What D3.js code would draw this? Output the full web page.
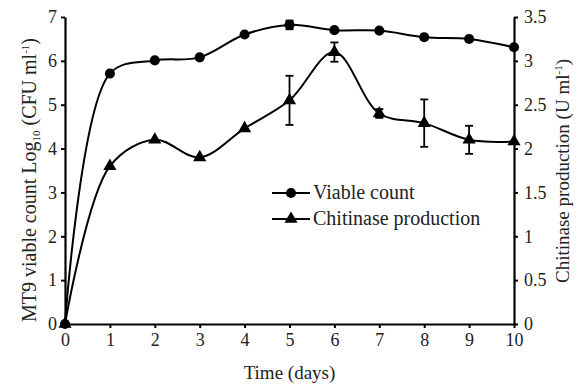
<!DOCTYPE html>
<html>
<head>
<meta charset="utf-8">
<script src="https://cdn.jsdelivr.net/npm/d3@7"></script>
<style>
  body { margin: 0; background: #fff; }
</style>
</head>
<body>
<div id="chart"></div>
<script>
// data
const days = [0, 1, 2, 3, 4, 5, 6, 7, 8, 9, 10];
const viableCount = [0, 5.71, 6.01, 6.08, 6.6, 6.82, 6.7, 6.69, 6.54, 6.5, 6.31];
const viableErr = [0, 0, 0, 0, 0, 0.1, 0, 0, 0, 0, 0];
const chitinase = [0, 1.8, 2.1, 1.9, 2.23, 2.55, 3.1, 2.4, 2.29, 2.1, 2.08];
const chitinaseErr = [0, 0, 0, 0, 0, 0.28, 0.11, 0.05, 0.27, 0.16, 0];
const leftTicks = [0, 1, 2, 3, 4, 5, 6, 7];
const rightTicks = [0, 0.5, 1, 1.5, 2, 2.5, 3, 3.5];

const width = 577, height = 385;
const margin = { top: 17, right: 63, bottom: 61, left: 65 };
const serif = '"Liberation Serif", "Times New Roman", serif';
const ink = "#222";

const svg = d3.select("#chart").append("svg")
  .attr("width", width)
  .attr("height", height)
  .style("font-family", serif);

const x = d3.scaleLinear().domain([0, 10]).range([margin.left, width - margin.right]);
const yL = d3.scaleLinear().domain([0, 7]).range([height - margin.bottom, margin.top]);
const yR = d3.scaleLinear().domain([0, 3.5]).range([height - margin.bottom, margin.top]);

// axes
const xAxis = svg.append("g")
  .attr("transform", `translate(0,${height - margin.bottom})`)
  .call(d3.axisBottom(x).tickValues(days).tickFormat(d3.format("")).tickSize(4).tickPadding(5).tickSizeOuter(0));
const leftAxis = svg.append("g")
  .attr("transform", `translate(${margin.left},0)`)
  .call(d3.axisLeft(yL).tickValues(leftTicks).tickFormat(d3.format("")).tickSize(4).tickPadding(4).tickSizeOuter(0));
const rightAxis = svg.append("g")
  .attr("transform", `translate(${width - margin.right},0)`)
  .call(d3.axisRight(yR).tickValues(rightTicks).tickFormat(d3.format("")).tickSize(4).tickPadding(6).tickSizeOuter(0));

[xAxis, leftAxis, rightAxis].forEach(a => {
  a.attr("font-family", serif).attr("font-size", 18);
  a.select(".domain").attr("stroke", "#000").attr("stroke-width", 2.2);
  a.selectAll(".tick line").attr("stroke", "#000").attr("stroke-width", 2);
  a.selectAll(".tick text").attr("fill", ink).style("font-family", serif).style("font-size", "18px");
});

// axis titles
svg.append("text")
  .attr("x", (margin.left + width - margin.right) / 2)
  .attr("y", 379)
  .attr("text-anchor", "middle")
  .attr("fill", ink)
  .style("font-size", "19px")
  .text("Time (days)");

const leftTitle = svg.append("text")
  .attr("transform", `translate(36,180) rotate(-90)`)
  .attr("text-anchor", "middle")
  .attr("fill", ink)
  .style("font-size", "20px");
leftTitle.append("tspan").text("MT9 viable count Log");
leftTitle.append("tspan").attr("dy", 4).style("font-size", "11px").text("10");
leftTitle.append("tspan").attr("dy", -4).text(" (CFU ml");
leftTitle.append("tspan").attr("dy", -7).style("font-size", "11px").text("-1");
leftTitle.append("tspan").attr("dy", 7).text(")");

const rightTitle = svg.append("text")
  .attr("transform", `translate(569,171) rotate(-90)`)
  .attr("text-anchor", "middle")
  .attr("fill", ink)
  .style("font-size", "19px");
rightTitle.append("tspan").text("Chitinase production (U ml");
rightTitle.append("tspan").attr("dy", -7).style("font-size", "11px").text("-1");
rightTitle.append("tspan").attr("dy", 7).text(")");

// series
const line = d3.line().curve(d3.curveCatmullRom.alpha(0.5));

function drawSeries(vals, errs, y, marker) {
  const pts = days.map((d, i) => [x(d), y(vals[i])]);
  svg.append("path")
    .attr("d", line(pts))
    .attr("fill", "none")
    .attr("stroke", "#000")
    .attr("stroke-width", 2);

  const eb = svg.append("g").attr("stroke", "#000").attr("stroke-width", 1.8);
  days.forEach((d, i) => {
    if (!errs[i]) return;
    const cx = x(d), y0 = y(vals[i] - errs[i]), y1 = y(vals[i] + errs[i]);
    eb.append("line").attr("x1", cx).attr("x2", cx).attr("y1", y0).attr("y2", y1);
    eb.append("line").attr("x1", cx - 4).attr("x2", cx + 4).attr("y1", y0).attr("y2", y0);
    eb.append("line").attr("x1", cx - 4).attr("x2", cx + 4).attr("y1", y1).attr("y2", y1);
  });

  svg.append("g").selectAll("path")
    .data(pts)
    .join("path")
    .attr("transform", p => `translate(${p[0]},${p[1]})`)
    .attr("d", marker)
    .attr("fill", "#000");
}

const circle = d3.symbol().type(d3.symbolCircle).size(80)();
const triangle = d3.symbol().type(d3.symbolTriangle).size(75)();

drawSeries(viableCount, viableErr, yL, circle);
drawSeries(chitinase, chitinaseErr, yR, triangle);

// legend
const legendItems = [
  { label: "Viable count", marker: circle, y: 193 },
  { label: "Chitinase production", marker: triangle, y: 219 }
];
const legend = svg.append("g");
legendItems.forEach(it => {
  legend.append("line")
    .attr("x1", 272).attr("x2", 310)
    .attr("y1", it.y).attr("y2", it.y)
    .attr("stroke", "#000").attr("stroke-width", 2);
  legend.append("path")
    .attr("transform", `translate(291,${it.y})`)
    .attr("d", it.marker)
    .attr("fill", "#000");
  legend.append("text")
    .attr("x", 313).attr("y", it.y + 6)
    .attr("fill", ink)
    .style("font-size", "20px")
    .text(it.label);
});
</script>
</body>
</html>
